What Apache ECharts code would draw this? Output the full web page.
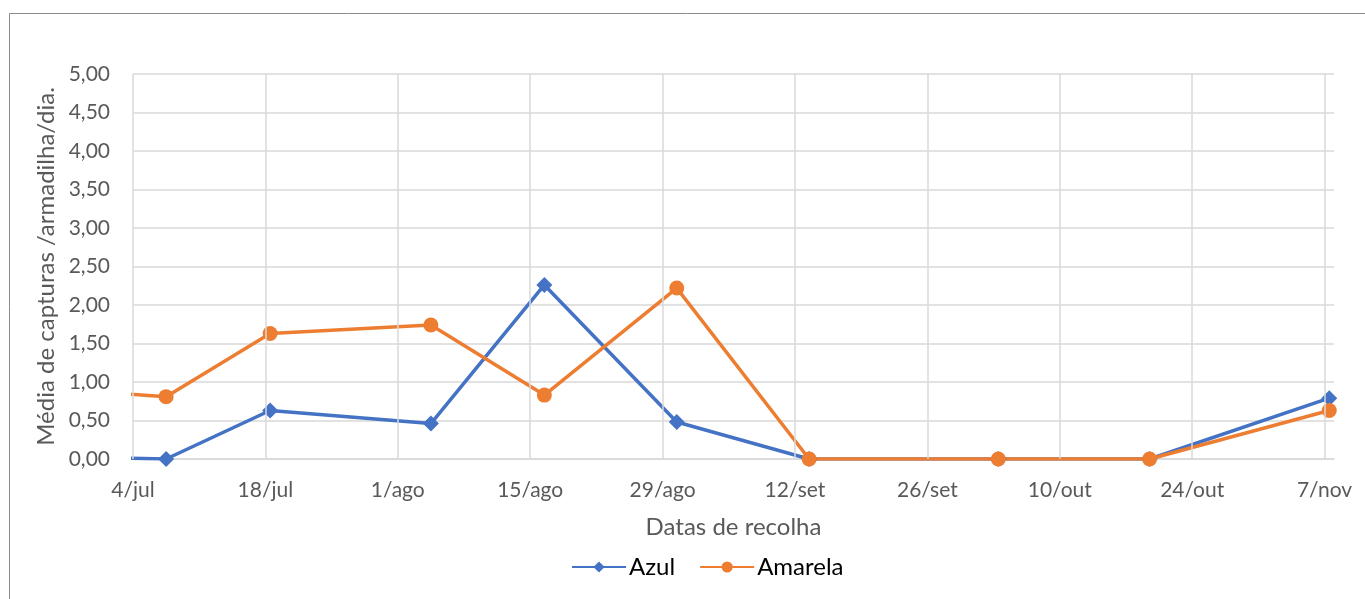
<!DOCTYPE html>
<html lang="pt">
<head>
    <meta charset="UTF-8">
    <title>Capturas</title>
    <script src="https://cdn.jsdelivr.net/npm/echarts@6/dist/echarts.min.js"></script>
    <style>
        html, body { margin: 0; padding: 0; background: #fff; }
        #chart { width: 1365px; height: 599px; }
    </style>
</head>
<body>
<div id="chart"></div>
<script>
    // datas de recolha (a primeira fica antes do início do eixo)
    var datas = ['2019-06-23', '2019-07-07', '2019-07-18', '2019-08-04', '2019-08-16',
                 '2019-08-30', '2019-09-13', '2019-10-03', '2019-10-19', '2019-11-07'];
    var azul = [0.04, 0.00, 0.63, 0.46, 2.26, 0.48, 0.00, 0.00, 0.00, 0.79];
    var amarela = [0.93, 0.81, 1.63, 1.74, 0.83, 2.22, 0.00, 0.00, 0.00, 0.63];
    var inicio = '2019-07-04';
    var fim = '2019-11-08';
    var rotulosX = ['4/jul', '18/jul', '1/ago', '15/ago', '29/ago', '12/set', '26/set', '10/out', '24/out', '7/nov'];

    var DIA = 86400000;
    function dia(s) {
        return (Date.parse(s) - Date.parse(inicio)) / DIA;
    }
    var ticksX = rotulosX.map(function (r, i) { return i * 14; });

    // como no Excel, cada ponto fica a meio do seu dia
    function pontos(valores) {
        return valores.map(function (v, i) { return [dia(datas[i]) + 0.5, v]; });
    }

    var cinza = '#595959';
    var grelha = '#D9D9D9';
    var fonte = 'Lato';

    var myChart = echarts.init(document.getElementById('chart'));
    var option = {
        backgroundColor: '#fff',
        animation: false,
        graphic: [{
            type: 'rect',
            shape: { x: 9.5, y: 13.5, width: 1400, height: 700 },
            style: { fill: 'none', stroke: '#8c8c8c', lineWidth: 1 },
            silent: true
        }],
        legend: {
            left: 566,
            top: 550,
            itemWidth: 54,
            itemHeight: 14,
            itemGap: 24,
            textStyle: { fontFamily: fonte, fontSize: 24, color: '#000', padding: [0, 0, 0, -2] },
            data: ['Azul', 'Amarela']
        },
        grid: {
            left: 133,
            top: 74,
            right: 31,
            bottom: 140,
            containLabel: false
        },
        xAxis: {
            type: 'value',
            min: 0,
            max: dia(fim),
            name: 'Datas de recolha',
            nameLocation: 'middle',
            nameGap: 56,
            nameTextStyle: { fontFamily: fonte, fontSize: 24, color: cinza },
            axisLine: { show: true, lineStyle: { color: grelha, width: 1.5 } },
            axisTick: { show: false, customValues: ticksX },
            axisLabel: {
                customValues: ticksX,
                margin: 21,
                fontFamily: fonte,
                fontSize: 21,
                color: cinza,
                formatter: function (v) { return v % 14 === 0 ? rotulosX[v / 14] : ''; }
            },
            // as linhas verticais vêm do markLine (sem linha no fim do eixo)
            splitLine: { show: false }
        },
        yAxis: {
            type: 'value',
            min: 0,
            max: 5,
            interval: 0.5,
            name: 'Média de capturas /armadilha/dia.',
            nameLocation: 'middle',
            nameGap: 72,
            nameTextStyle: { fontFamily: fonte, fontSize: 24, color: cinza },
            axisLine: { show: false },
            axisTick: { show: false },
            axisLabel: {
                margin: 23,
                fontFamily: fonte,
                fontSize: 21,
                color: cinza,
                formatter: function (v) { return v.toFixed(2).replace('.', ','); }
            },
            splitLine: { show: true, lineStyle: { color: grelha, width: 1.5 } }
        },
        series: [
            {
                type: 'line',
                data: [],
                z: 1,
                silent: true,
                markLine: {
                    silent: true,
                    symbol: 'none',
                    label: { show: false },
                    lineStyle: { color: grelha, width: 1.5, type: 'solid' },
                    data: ticksX.map(function (v) { return { xAxis: v }; })
                }
            },
            {
                name: 'Azul',
                type: 'line',
                data: pontos(azul),
                symbol: 'diamond',
                symbolSize: 16,
                showAllSymbol: true,
                clip: true,
                itemStyle: { color: '#4472C4' },
                lineStyle: { color: '#4472C4', width: 3.5 }
            },
            {
                name: 'Amarela',
                type: 'line',
                data: pontos(amarela),
                symbol: 'circle',
                symbolSize: 15,
                showAllSymbol: true,
                clip: true,
                itemStyle: { color: '#ED7D31' },
                lineStyle: { color: '#ED7D31', width: 3.5 }
            }
        ]
    };
    myChart.setOption(option);

    window.addEventListener('resize', function () {
        myChart.resize();
    });
</script>
</body>
</html>
